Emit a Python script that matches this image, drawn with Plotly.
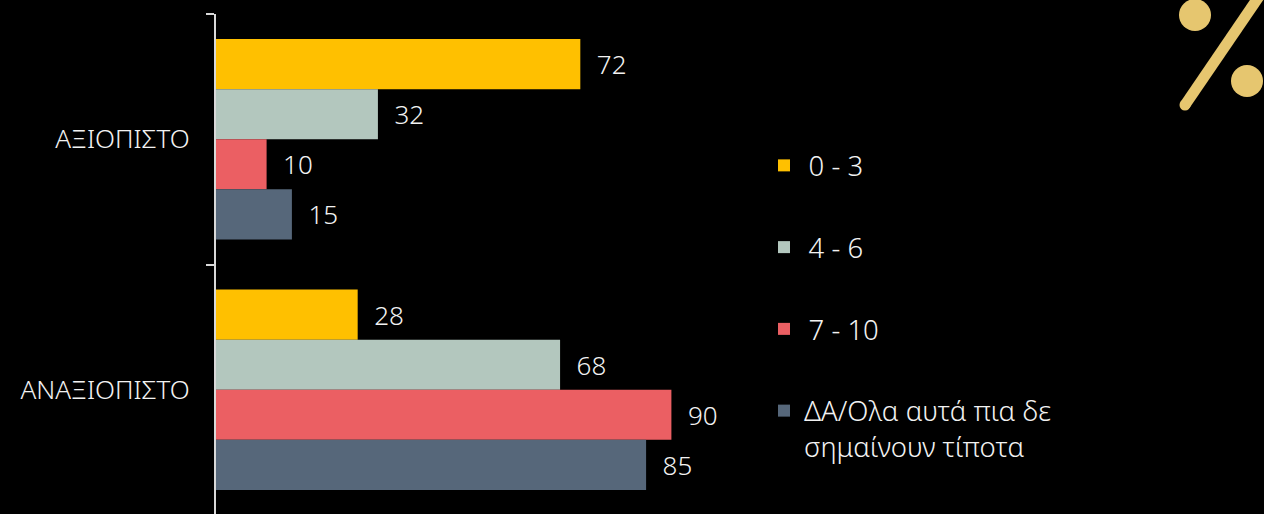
import plotly.graph_objects as go

categories = ["ΑΞΙΟΠΙΣΤΟ", "ΑΝΑΞΙΟΠΙΣΤΟ"]
series_names = ["\u20090 - 3", "\u20094 - 6", "\u20097 - 10", "ΔΑ/Ολα αυτά πια δε"]
legend_second_line = "σημαίνουν τίποτα"
v_0_3 = [72, 28]
v_4_6 = [32, 68]
v_7_10 = [10, 90]
v_na = [15, 85]
colors = ["#FFC000", "#B3C7BE", "#EB5F63", "#56677A"]

W, H = 1264, 514
L, T = 216, 14
FONT = "Noto Sans"
TXT = "#F2F2F2"

fig = go.Figure()
for name, vals, c in zip(series_names, [v_0_3, v_4_6, v_7_10, v_na], colors):
    fig.add_trace(go.Bar(
        y=categories, x=vals, name=name, orientation="h", legendgroup=name,
        marker=dict(color=c, line=dict(width=0)),
        text=vals, texttemplate="\u00a0\u00a0%{text}", textposition="outside",
        textfont=dict(color=TXT, size=26, family=FONT, weight=300),
        cliponaxis=False,
    ))

def px(x): return (x - L) / (W - L)
def py(y): return 1 - (y - T) / (H - T)

gold = "#E6C66F"
def circle(cx, cy, r):
    return dict(type="circle", xref="paper", yref="paper",
                x0=px(cx - r), x1=px(cx + r), y0=py(cy + r), y1=py(cy - r),
                fillcolor=gold, line=dict(width=0), layer="above")

shapes = [
    circle(1195, 15, 16), circle(1247, 81, 16), circle(1185, 105, 5.5),
    dict(type="line", xref="paper", yref="paper",
         x0=px(1185), y0=py(105), x1=px(1260), y1=py(-5),
         line=dict(color=gold, width=11), layer="above"),
]

fig.update_layout(
    width=W, height=H, autosize=False,
    margin=dict(l=L, r=0, t=T, b=0, pad=0),
    paper_bgcolor="#000000", plot_bgcolor="#000000",
    barmode="group", bargap=0.2, bargroupgap=0,
    font=dict(family=FONT, color=TXT, size=26, weight=300),
    showlegend=True,
    legend=dict(x=px(764), xanchor="left", y=py(141), yanchor="top",
                bgcolor="rgba(0,0,0,0)", tracegroupgap=43, traceorder="grouped",
                font=dict(size=27.5, color=TXT, family=FONT, weight=300),
                itemclick=False, itemdoubleclick=False),
    shapes=shapes,
    annotations=[dict(text=legend_second_line, xref="paper", yref="paper",
                      x=px(802), xanchor="left", y=py(446.5), yanchor="middle",
                      showarrow=False,
                      font=dict(size=27.5, color=TXT, family=FONT, weight=300))],
    xaxis=dict(visible=False, range=[0, (W - L) / 5.06], showgrid=False, zeroline=False),
    yaxis=dict(type="category", categoryorder="array", categoryarray=categories,
               range=[1.496, -0.5], showgrid=False, zeroline=False,
               showline=True, linecolor="#D9D9D9", linewidth=2,
               ticks="outside", ticklen=8, tickwidth=2, tickcolor="#D9D9D9",
               tickson="boundaries", ticklabelstandoff=19,
               tickfont=dict(size=26, color=TXT, family=FONT, weight=300)),
)
page_css = ("document.documentElement.style.background='#000';"
            "document.body.style.margin='0';document.body.style.background='#000';"
            "document.body.style.overflow='hidden';")
fig.write_html("out.html", config=dict(displayModeBar=False), post_script=page_css)
